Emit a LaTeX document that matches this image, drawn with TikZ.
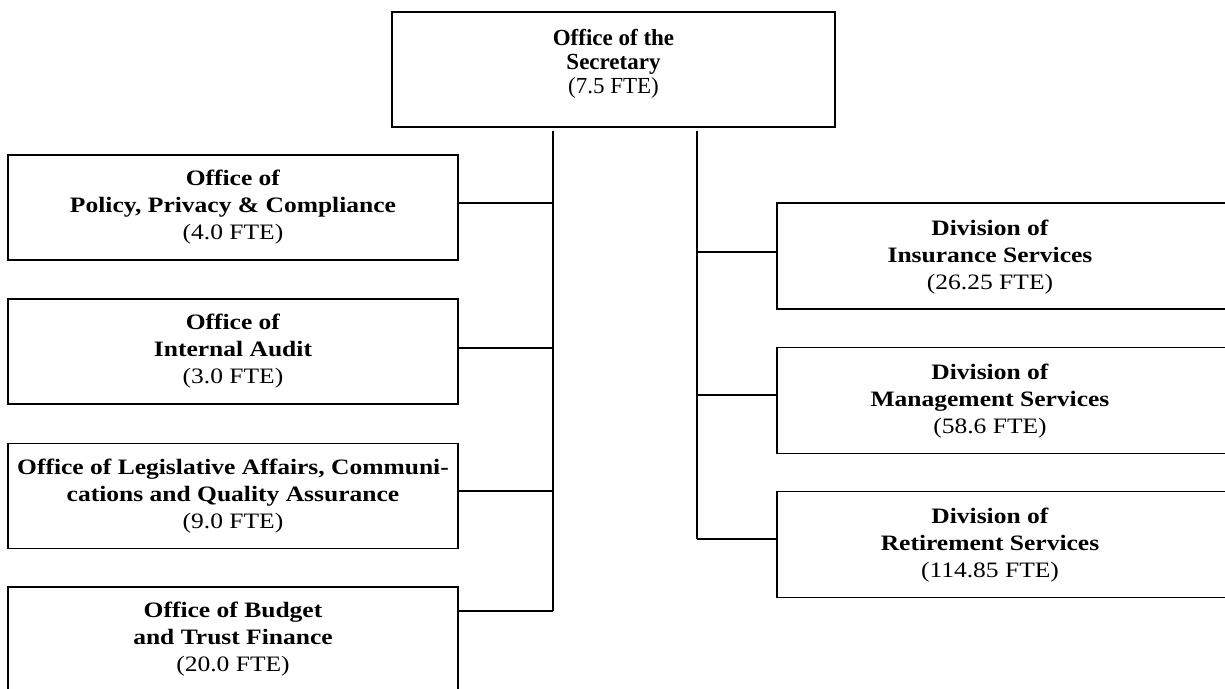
\documentclass[tikz,border=0pt]{standalone}
\usepackage{fontspec}
\setmainfont{Liberation Serif}
\newfontfamily\wideserif[FakeStretch=1.16]{Liberation Serif}
\tikzset{
  frame/.style={draw, line width=1.6pt, inner sep=0pt},
  lbox/.style={frame, minimum width=450pt, minimum height=105pt, align=center,
    font=\wideserif\fontsize{22}{27}\selectfont},
  rbox/.style={frame, minimum width=455pt, minimum height=106pt},
  rtext/.style={align=center, inner sep=0pt, font=\wideserif\fontsize{22}{27}\selectfont},
  topbox/.style={frame, minimum width=443pt, minimum height=115pt},
  toptext/.style={align=center, inner sep=0pt, font=\fontsize{23}{24}\selectfont},
  link/.style={line width=1.6pt}
}
\begin{document}
\begin{tikzpicture}[x=1pt,y=-1pt]
\useasboundingbox (0,0) rectangle (1225,688);
% top
\node[topbox] (sec) at (613.5,69.5) {};
\node[toptext] (sect) at (613.5,64) {\textbf{Office of the}\\\textbf{Secretary}\\(7.5 FTE)};
% left column
\node[lbox] (p1) at (233,207.5) {\textbf{Office of}\\\textbf{Policy, Privacy \& Compliance}\\(4.0 FTE)};
\node[lbox] (p2) at (233,351.5) {\textbf{Office of}\\\textbf{Internal Audit}\\(3.0 FTE)};
\node[lbox] (p3) at (233,496) {\textbf{Office of Legislative Affairs, Communi-}\\\textbf{cations and Quality Assurance}\\(9.0 FTE)};
\node[lbox] (p4) at (233,639.5) {\textbf{Office of Budget}\\\textbf{and Trust Finance}\\(20.0 FTE)};
% right column
\node[rbox] (r1) at (1004.5,256) {};
\node[rtext] (r1t) at (990,257) {\textbf{Division of}\\\textbf{Insurance Services}\\(26.25 FTE)};
\node[rbox] (r2) at (1004.5,400.5) {};
\node[rtext] (r2t) at (990,401) {\textbf{Division of}\\\textbf{Management Services}\\(58.6 FTE)};
\node[rbox] (r3) at (1004.5,544.5) {};
\node[rtext] (r3t) at (990,545) {\textbf{Division of}\\\textbf{Retirement Services}\\(114.85 FTE)};
% trunks
\coordinate (ltop) at (553,131);
\coordinate (j1) at (553,203);
\coordinate (j2) at (553,348);
\coordinate (j3) at (553,491);
\coordinate (j4) at (553,611);
\coordinate (rtop) at (697,131);
\coordinate (k1) at (697,252);
\coordinate (k2) at (697,395);
\coordinate (k3) at (697,539);
\draw[link] (ltop) -- (j4);
\draw[link] (rtop) -- (k3);
\draw[link] (j1) -- (j1 -| p1.east);
\draw[link] (j2) -- (j2 -| p2.east);
\draw[link] (j3) -- (j3 -| p3.east);
\draw[link] (j4) -- (j4 -| p4.east);
\draw[link] (k1) -- (k1 -| r1.west);
\draw[link] (k2) -- (k2 -| r2.west);
\draw[link] (k3) -- (k3 -| r3.west);
\end{tikzpicture}
\end{document}
